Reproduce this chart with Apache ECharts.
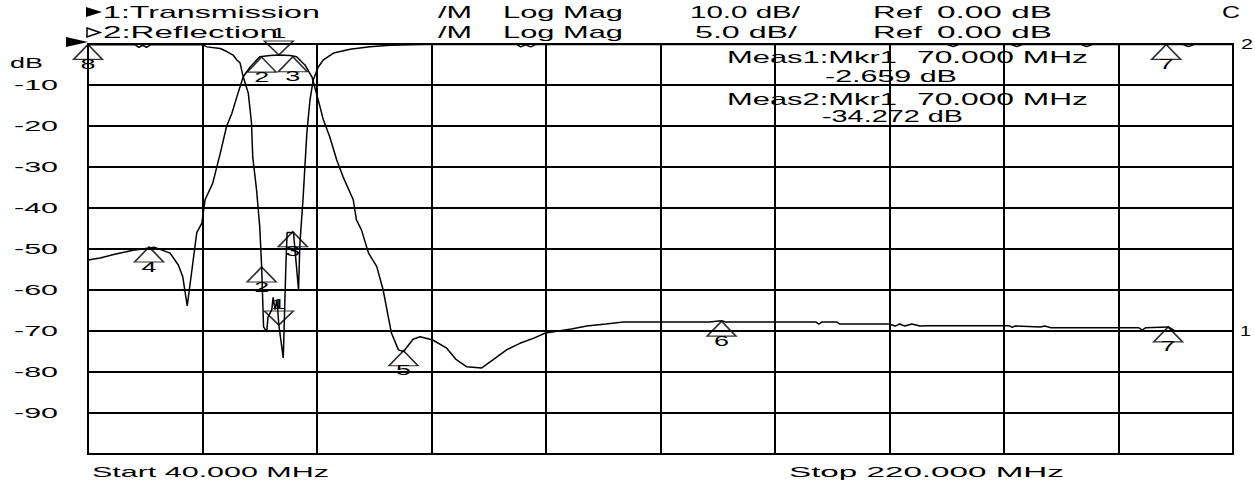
<!DOCTYPE html>
<html><head><meta charset="utf-8">
<script src="https://cdn.jsdelivr.net/npm/echarts@6/dist/echarts.min.js"></script>
<style>html,body{margin:0;padding:0;background:#fff}#c{width:1255px;height:482px}</style>
</head><body><div id="c"></div>
<script>
// ---- Trace 1: Transmission (10 dB/div, Ref 0 dB) ----
const transFreq = [40.0,41.9,44.2,47.1,50.5,52.9,54.2,54.9,55.6,57.1,57.9,58.4,59.6,60.8,61.8,62.6,63.4,64.4,65.5,67.0,
  68.6,70.0,71.8,72.8,74.1,75.2,76.2,77.0,78.0,79.1,80.1,81.7,82.2,83.0,84.1,85.4,86.4,87.2,87.7,88.8,
  89.6,91.1,92.2,94.2,96.4,97.9,99.5,101.9,103.7,105.8,107.9,110.0,111.9,116.0,118.4,121.4,124.2,137.7,139.6,140.2,
  154.4,154.9,155.4,157.7,158.2,165.9,166.9,167.6,168.4,169.5,170.8,172.0,184.8,185.3,185.7,189.7,190.4,191.4,205.2,205.7,
  206.3,209.8,210.9,220.0];
const transMag = [-52.7,-52.2,-51.3,-50.3,-49.6,-51.0,-53.9,-56.8,-63.9,-46.0,-43.7,-38.0,-34.0,-26.6,-20.0,-17.0,-12.9,-8.0,-5.6,-3.1,
  -2.8,-2.66,-2.8,-3.1,-5.1,-8.0,-13.7,-18.5,-22.6,-28.3,-32.4,-38.0,-42.9,-45.4,-51.0,-54.3,-60.0,-66.5,-70.5,-74.6,
  -75.0,-72.0,-71.4,-72.2,-74.2,-77.0,-78.7,-79.0,-77.0,-74.6,-73.0,-71.8,-70.5,-69.5,-68.8,-68.3,-67.8,-67.8,-67.5,-67.8,
  -67.8,-68.3,-67.8,-67.8,-68.3,-68.3,-68.8,-68.3,-68.8,-68.3,-68.8,-68.7,-68.7,-69.1,-68.8,-69.0,-68.8,-69.2,-69.2,-69.8,
  -69.2,-69.0,-70.0,-70.0];

// ---- Trace 2: Reflection (5 dB/div, Ref 0 dB) ----
const reflFreq = [40.0,47.4,48.0,48.6,49.2,49.8,58.1,58.7,60.8,61.9,62.8,63.4,63.9,64.4,65.2,65.7,65.9,66.5,67.0,67.3,
  67.6,68.1,68.3,68.9,69.1,69.4,69.7,70.0,70.7,71.1,71.3,72.3,73.1,73.3,73.8,74.4,74.9,75.4,76.2,77.0,
  78.6,81.2,84.3,87.5,92.7,107.4,108.0,108.8,109.6,110.4,175.0,176.0,177.0,185.0,186.0,187.0,196.0,197.0,198.0,212.0,
  213.0,214.0,220.0];
const reflMag = [-0.1,-0.1,-0.4,-0.15,-0.4,-0.1,-0.1,-0.35,-0.55,-0.95,-1.35,-1.95,-2.3,-4.0,-6.0,-9.6,-13.8,-17.8,-22.3,-27.2,
  -34.5,-35.1,-33.3,-32.4,-30.9,-32.4,-31.2,-34.27,-38.3,-27.2,-23.0,-23.0,-30.0,-24.5,-19.0,-10.9,-6.8,-4.4,-2.8,-1.95,
  -1.1,-0.65,-0.33,-0.15,-0.05,-0.05,-0.35,-0.1,-0.35,-0.05,-0.05,-0.3,-0.05,-0.05,-0.3,-0.05,-0.05,-0.3,-0.05,-0.05,
  -0.3,-0.05,-0.05];

// ---- Markers ----
const mkT_up_ids = ['2','3','4','5','6','7'];
const mkT_up_f   = [67.3, 72.2, 49.6, 89.6, 139.6, 209.8];
const mkT_up_v   = [-3.2, -3.1, -49.5, -74.8, -67.6, -69.0];
const mkT_dn_ids = ['1'];
const mkT_dn_f   = [70.0];
const mkT_dn_v   = [-2.659];
const mkR_up_ids = ['8','2','3','7'];
const mkR_up_f   = [40.0, 67.3, 72.2, 209.5];
const mkR_up_v   = [-0.05, -27.2, -22.9, -0.05];
const mkR_dn_ids = ['1'];
const mkR_dn_f   = [70.0];
const mkR_dn_v   = [-34.272];

// ---- Axis tick labels ----
const yTickValues = [-10,-20,-30,-40,-50,-60,-70,-80,-90];
const yTickLabels = ['-10','-20','-30','-40','-50','-60','-70','-80','-90'];

// ---- Annotation texts: [text, left, right, centerY] ----
const headerTexts = [
  ['1:Transmission',103,320,12],['/M',438,472,12],['Log Mag',503,623,12],['10.0 dB/',690,800,12],['Ref',873,922,12],['0.00 dB',937,1052,12],['C',1222,1240,12],
  ['2:Reflection',103,278,32],['/M',438,472,32],['Log Mag',503,623,32],['5.0 dB/',695,797,32],['Ref',873,922,32],['0.00 dB',937,1052,32]
];
const measTexts = [
  ['Meas1:Mkr1',727,897,57],['70.000 MHz',917,1088,57],['-2.659 dB',825,957,76],
  ['Meas2:Mkr1',727,897,99],['70.000 MHz',917,1088,99],['-34.272 dB',822,963,117]
];
const footerTexts = [['Start 40.000 MHz',92,329,471.5],['Stop 220.000 MHz',789,1064,471.5]];
const sideTexts = [['dB',10,43,63],['2',1241,1253,44],['1',1240,1251,331]];

const zip = (a,b) => a.map((v,i)=>[v,b[i]]);
const FONT = '"Liberation Sans", Arial, sans-serif';
const UP = 'path://M0,0 L1,1 L-1,1 Z';
const DN = 'path://M-1,0 L1,0 L0,1 Z';
const mkStyle = {color:'rgba(0,0,0,0)', borderColor:'#000', borderWidth:1.5};
const LINE = {color:'#000', width:2};

const chart = echarts.init(document.getElementById('c'), null, {renderer:'svg'});
const option = {
  animation:false,
  backgroundColor:'#fff',
  grid:{left:88,right:22,top:44,bottom:28,show:true,borderColor:'#000',borderWidth:2,backgroundColor:'transparent'},
  xAxis:[
    {type:'value',min:40,max:220,axisLine:{show:false},axisTick:{show:false},axisLabel:{show:false},splitLine:{show:false}},
    {type:'value',min:0,max:180,interval:18,axisLine:{show:false},axisTick:{show:false},axisLabel:{show:false},
      splitLine:{show:true,lineStyle:LINE}}
  ],
  yAxis:[
    {type:'value',min:-100,max:0,interval:10,axisLine:{show:false},axisTick:{show:false},axisLabel:{show:false},
      splitLine:{show:true,lineStyle:LINE}},
    {type:'value',min:-50,max:0,show:false}
  ],
  series:[
    {type:'line',name:'Transmission',xAxisIndex:0,yAxisIndex:0,data:zip(transFreq,transMag),showSymbol:false,
      lineStyle:{color:'#000',width:1.5},z:3},
    {type:'line',name:'Reflection',xAxisIndex:0,yAxisIndex:1,data:zip(reflFreq,reflMag),showSymbol:false,
      lineStyle:{color:'#000',width:1.5},z:3},
    {type:'scatter',xAxisIndex:0,yAxisIndex:0,data:zip(mkT_up_f,mkT_up_v),symbol:UP,symbolSize:[29,15],symbolOffset:[0,7.5],itemStyle:mkStyle,z:5},
    {type:'scatter',xAxisIndex:0,yAxisIndex:0,data:zip(mkT_dn_f,mkT_dn_v),symbol:DN,symbolSize:[29,14],symbolOffset:[0,-7],itemStyle:mkStyle,z:5},
    {type:'scatter',xAxisIndex:0,yAxisIndex:1,data:zip(mkR_up_f,mkR_up_v),symbol:UP,symbolSize:[29,15],symbolOffset:[0,7.5],itemStyle:mkStyle,z:5},
    {type:'scatter',xAxisIndex:0,yAxisIndex:1,data:zip(mkR_dn_f,mkR_dn_v),symbol:DN,symbolSize:[29,14],symbolOffset:[0,-7],itemStyle:mkStyle,z:5}
  ]
};
chart.setOption(option);

const ctx = document.createElement('canvas').getContext('2d');
function measure(s, fs){ ctx.font = fs+'px '+FONT; return ctx.measureText(s).width; }
function txt(s,x,y,fs,align,sx){
  return {type:'text',x:x,y:y,scaleX:sx,z:100,silent:true,
    style:{text:s,fill:'#000',font:fs+'px '+FONT,textAlign:align,textVerticalAlign:'middle',align:align,verticalAlign:'middle'}};
}
function fitTxt(t, fs){
  const w = measure(t[0], fs);
  return txt(t[0], t[1], t[3], fs, 'left', (t[2]-t[1])/w);
}
const g = [];
headerTexts.forEach(t=>g.push(fitTxt(t,16)));
measTexts.forEach(t=>g.push(fitTxt(t,16)));
footerTexts.forEach(t=>g.push(fitTxt(t,15)));
sideTexts.forEach(t=>g.push(fitTxt(t,15)));
yTickValues.forEach((v,i)=>{
  const py = chart.convertToPixel({yAxisIndex:0}, v);
  const sx = 44 / measure(yTickLabels[i], 15);
  g.push(txt(yTickLabels[i],58,py,15,'right',sx));
});
// legend / reference triangles
g.push({type:'polygon',z:100,shape:{points:[[86,7],[102,12],[86,17]]},style:{fill:'#000'}});
g.push({type:'polygon',z:100,shape:{points:[[87,28],[100,32.5],[87,37]]},style:{fill:'none',stroke:'#000',lineWidth:1.5}});
g.push({type:'polygon',z:100,shape:{points:[[66,37],[88,42],[66,47]]},style:{fill:'#000'}});
// marker numbers
function mkLabels(ids,fs_,vs,yIdx,dy){
  ids.forEach((id,i)=>{
    const p = chart.convertToPixel({xAxisIndex:0,yAxisIndex:yIdx},[fs_[i],vs[i]]);
    g.push(txt(id,p[0],p[1]+dy,14,'center',15/measure(id,14)));
  });
}
mkLabels(mkT_up_ids,mkT_up_f,mkT_up_v,0,20);
mkLabels(mkT_dn_ids,mkT_dn_f,mkT_dn_v,0,-21);
mkLabels(mkR_up_ids,mkR_up_f,mkR_up_v,1,20);
mkLabels(mkR_dn_ids,mkR_dn_f,mkR_dn_v,1,-21);
chart.setOption({graphic:g});
</script></body></html>
